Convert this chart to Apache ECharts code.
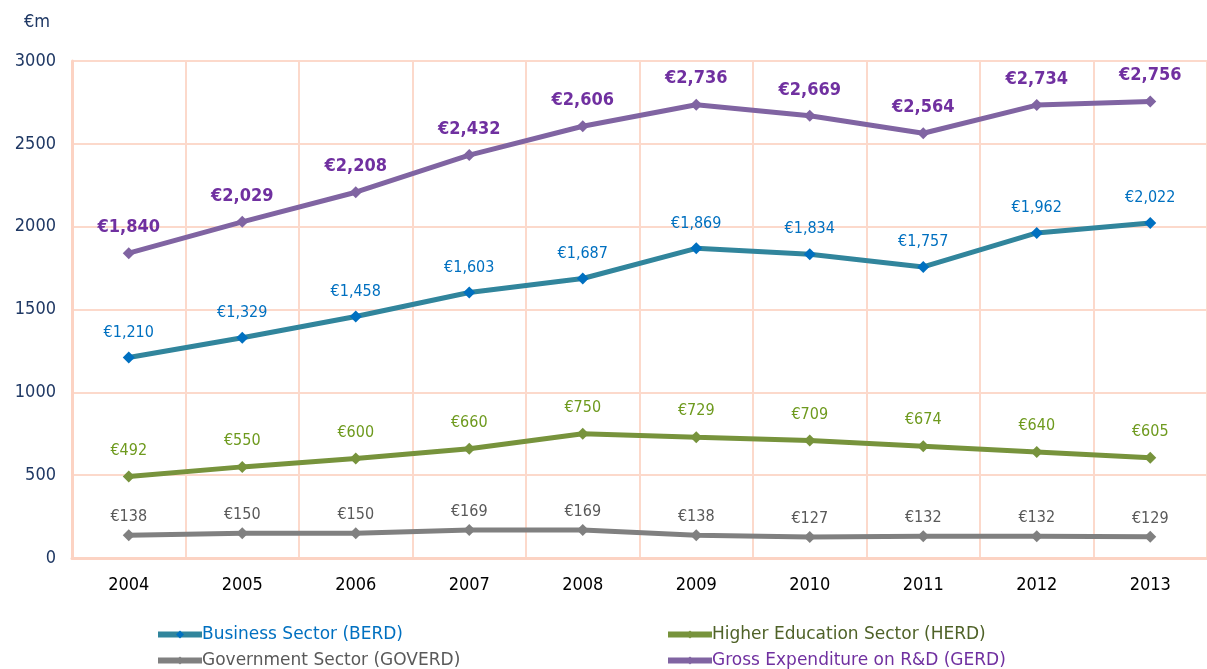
<!DOCTYPE html>
<html>
<head>
<meta charset="utf-8">
<script src="https://cdn.jsdelivr.net/npm/echarts@6/dist/echarts.min.js"></script>
<style>
  html, body { margin: 0; padding: 0; background: #fff; }
  #main { width: 1207px; height: 669px; }
</style>
</head>
<body>
<div id="main"></div>
<script>
var years = ['2004', '2005', '2006', '2007', '2008', '2009', '2010', '2011', '2012', '2013']
var berd = [1210, 1329, 1458, 1603, 1687, 1869, 1834, 1757, 1962, 2022]
var herd = [492, 550, 600, 660, 750, 729, 709, 674, 640, 605]
var goverd = [138, 150, 150, 169, 169, 138, 127, 132, 132, 129]
var gerd = [1840, 2029, 2208, 2432, 2606, 2736, 2669, 2564, 2734, 2756]

var font = '"DejaVu Sans Condensed", "DejaVu Sans", sans-serif'

function euro(p) {
  return '€' + p.value.toLocaleString('en-US')
}

function makeSeries(name, data, lineColor, markColor, labelColor, labelSize, bold, dist) {
  return {
    name: name,
    type: 'line',
    data: data,
    symbol: 'diamond',
    symbolSize: 12,
    lineStyle: { color: lineColor, width: 5 },
    itemStyle: { color: markColor },
    label: {
      show: true,
      position: 'top',
      distance: dist,
      formatter: euro,
      color: labelColor,
      fontSize: labelSize,
      fontWeight: bold ? 'bold' : 'normal',
      fontFamily: font
    },
    emphasis: { disabled: true }
  }
}

// one legend per entry, placed in two columns like the original
function makeLegend(name, color, left, top) {
  return {
    left: left,
    top: top,
    padding: 0,
    itemWidth: 44,
    itemHeight: 10,
    data: [name],
    lineStyle: { width: 6 },
    textStyle: { color: color, fontSize: 17, fontFamily: '"DejaVu Sans", sans-serif', padding: [0, 0, 0, -5] }
  }
}

var myChart = echarts.init(document.getElementById('main'))

var option = {
  animation: false,
  graphic: [
    {
      type: 'text',
      left: 24,
      top: 13,
      style: { text: '€m', fill: '#1F3864', font: '18px ' + font }
    }
  ],
  legend: [
    makeLegend('Business Sector (BERD)', '#0070C0', 155, 626),
    makeLegend('Government Sector (GOVERD)', '#595959', 155, 652),
    makeLegend('Higher Education Sector (HERD)', '#4F6228', 665, 626),
    makeLegend('Gross Expenditure on R&D (GERD)', '#7030A0', 665, 652)
  ],
  grid: {
    left: 72,
    right: -13,
    top: 61,
    bottom: 111
  },
  xAxis: {
    type: 'category',
    data: years,
    boundaryGap: true,
    axisLine: { lineStyle: { color: '#FCD3C3', width: 3 } },
    axisTick: { show: false },
    axisLabel: { color: '#000', fontSize: 18, fontFamily: font, margin: 18 },
    splitLine: { show: true, lineStyle: { color: '#FCD9CB', width: 2 } }
  },
  yAxis: {
    type: 'value',
    min: 0,
    max: 3000,
    interval: 500,
    axisLine: { show: true, lineStyle: { color: '#FCD3C3', width: 3 } },
    axisTick: { show: false },
    axisLabel: {
      color: '#1F3864',
      fontSize: 18,
      fontFamily: font,
      margin: 16,
      formatter: function (v) { return String(v) }
    },
    splitLine: { lineStyle: { color: '#FCD9CB', width: 2 } }
  },
  series: [
    makeSeries('Business Sector (BERD)', berd, '#31859C', '#0070C0', '#0070C0', 16, false, 11),
    makeSeries('Higher Education Sector (HERD)', herd, '#77933C', '#77933C', '#6E9A1E', 16, false, 12),
    makeSeries('Government Sector (GOVERD)', goverd, '#808080', '#808080', '#595959', 16, false, 4),
    makeSeries('Gross Expenditure on R&D (GERD)', gerd, '#8064A2', '#8064A2', '#7030A0', 18, true, 11)
  ]
}

myChart.setOption(option)
</script>
</body>
</html>
